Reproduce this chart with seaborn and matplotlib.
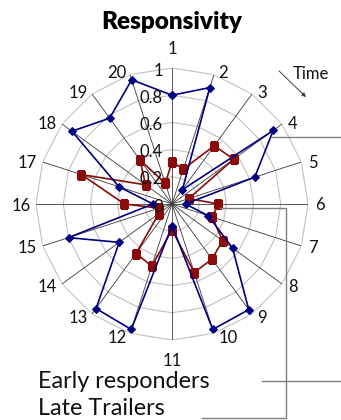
import numpy as np
import matplotlib
matplotlib.use("Agg")
import matplotlib.pyplot as plt
import seaborn as sns
from matplotlib.lines import Line2D

# ---- data ----
categories = [str(i) for i in range(1, 21)]
early_responders = [0.80, 0.90, 0.13, 0.92, 0.64, 0.10, 0.28, 0.55, 0.96, 0.97,
                    0.16, 0.97, 0.95, 0.48, 0.80, 0.14, 0.41, 0.91, 0.78, 0.96]
late_trailers = [0.31, 0.27, 0.53, 0.56, 0.13, 0.34, 0.31, 0.46, 0.50, 0.53,
                 0.19, 0.48, 0.45, 0.12, 0.10, 0.35, 0.70, 0.24, 0.40, 0.16]
r_ticks = [0, 0.2, 0.4, 0.6, 0.8, 1.0]
r_tick_labels = ["0", "0.2", "0.4", "0.6", "0.8", "1"]
series_names = ["Early responders", "Late Trailers"]
title = "Responsivity"

FONT = ["Lato", "DejaVu Sans"]
W, H = 341, 420
fig = plt.figure(figsize=(W / 100, H / 100), dpi=100)
cx, cy, R = 172, 204, 136
ax = fig.add_axes([(cx - R) / W, (H - cy - R) / H, 2 * R / W, 2 * R / H],
                  projection="polar")
ax.set_theta_zero_location("N")
ax.set_theta_direction(-1)
ax.grid(False)
ax.spines["polar"].set_visible(False)

n = len(categories)
theta = np.linspace(0, 2 * np.pi, n, endpoint=False)
theta_c = np.append(theta, 2 * np.pi)

# polygon rings
for v in r_ticks[1:]:
    ax.plot(theta_c, [v] * (n + 1), color="#c0c0c0", lw=0.8, zorder=1)
# spokes
for t in theta:
    ax.plot([t, t], [0, 1], color="#3a3a3a", lw=0.6, zorder=1.5)

# series
def closed(vals):
    return np.append(vals, vals[0])

sns.lineplot(x=theta_c, y=closed(early_responders), sort=False, estimator=None,
             ax=ax, color="#000080", lw=1.2, marker="D", markersize=4.5,
             markeredgecolor="#000080", zorder=3)
sns.lineplot(x=theta_c, y=closed(late_trailers), sort=False, estimator=None,
             ax=ax, color="#8b0a0a", lw=1.2, marker="s", markersize=5.5,
             markeredgecolor="#8b0a0a", zorder=2.5)

ax.set_ylim(0, 1)
ax.set_xticks([])
ax.set_yticks([])
ax.set_xlabel("")
ax.set_ylabel("")

# category labels
for k, (t, lab) in enumerate(zip(theta, categories)):
    s, c = np.sin(t), np.cos(t)
    dy = -(1.5 - 3 * c)
    if k == 0:
        ha, dx, dy = "center", 0, 19
    elif k == n // 2:
        ha, dx, dy = "center", 0, -21
    elif s > 0:
        ha, dx = "left", 3 + 4 * abs(s)
    else:
        ha, dx = "right", -(2 + 3.5 * abs(s))
    ax.annotate(lab, xy=(t, 1.0), xytext=(dx, dy), textcoords="offset pixels",
                ha=ha, va="center", fontsize=12, family=FONT, color="#111111")

# radial value labels
for v, lab in zip(r_ticks, r_tick_labels):
    ax.annotate(lab, xy=(0, v), xytext=(-9, -2.5), textcoords="offset pixels",
                ha="right", va="center", fontsize=12, family=FONT,
                color="#111111", zorder=4)

# title
fig.text(cx / W, 1 - 29 / H, title, ha="center", va="baseline",
         fontsize=17.5, fontweight="heavy", family=FONT)

# legend texts
fig.text(38 / W, 1 - 388 / H, series_names[0], ha="left", va="baseline",
         fontsize=16.8, family=FONT, color="#111111")
fig.text(38 / W, 1 - 415 / H, series_names[1], ha="left", va="baseline",
         fontsize=16.8, family=FONT, color="#111111")

# leader lines
def pline(xs, ys, color="#7f7f7f"):
    fig.add_artist(Line2D([x / W for x in xs], [1 - y / H for y in ys],
                          transform=fig.transFigure, color=color, lw=1.0))

pline([272, 341], [137, 137])
pline([220, 286, 286, 202], [208, 208, 418, 418])
pline([262, 341], [381, 381])

# time arrow
ax.annotate("", xy=(308, H - 99), xytext=(277, H - 69), xycoords="figure pixels",
            textcoords="figure pixels",
            arrowprops=dict(arrowstyle="-|>", lw=0.7, color="#404040",
                            mutation_scale=6))
fig.text(293 / W, 1 - 74 / H, "Time", ha="left", va="center", fontsize=12,
         family=FONT, color="#111111")

fig.savefig("out.png", dpi=100)
